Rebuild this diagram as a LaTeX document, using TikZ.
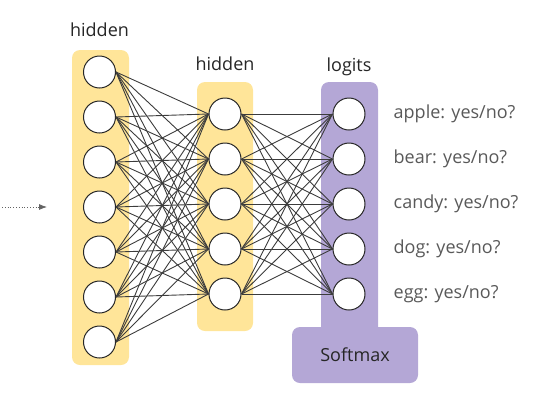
\documentclass[tikz,border=0pt]{standalone}
\usepackage{fontspec}
\setmainfont{Open Sans}
\usetikzlibrary{arrows,arrows.meta,positioning}
\definecolor{hidyellow}{HTML}{FFE599}
\definecolor{logpurple}{HTML}{B4A7D6}
\definecolor{edgegray}{HTML}{3C3C3C}
\definecolor{labgray}{HTML}{595959}

\begin{document}
\begin{tikzpicture}[x=1pt,y=-1pt,
	neuron/.style={draw=black!85,line width=1pt,fill=white,circle,minimum size=32pt,inner sep=0},
	edge/.style={edgegray,line width=0.9pt},
	title/.style={text=black!85,font=\fontsize{18}{20}\selectfont,inner sep=0,text depth=0pt},
	answer/.style={text=labgray,font=\fontsize{18}{20}\selectfont,inner sep=0,anchor=west}]
	\useasboundingbox (0,0) rectangle (555,400);
	% layer backgrounds
	\fill [hidyellow, rounded corners=8] (72,50) rectangle (129,365);
	\fill [hidyellow, rounded corners=8] (197,82) rectangle (253,331);
	\fill [logpurple, rounded corners=8] (321,82) rectangle (378,340);
	\fill [logpurple, rounded corners=8] (292,327) rectangle (418,383);
	% neurons
	\foreach \i in {1,...,7} \node[neuron] (a\i) at (99.5,{27+45*\i}) {};
	\foreach \i in {1,...,5} \node[neuron] (b\i) at (225,{69+45*\i}) {};
	\foreach \i/\t in {1/apple,2/bear,3/candy,4/dog,5/egg} {
		\node[neuron] (c\i) at (349,{69+45*\i}) {};
		\node[answer, right=28pt of c\i] (q\i) {\t: yes/no?};
	}
	% connections
	\foreach \i in {1,...,7} \foreach \j in {1,...,5} \draw[edge] (a\i.east) -- (b\j.west);
	\foreach \i in {1,...,5} \foreach \j in {1,...,5} \draw[edge] (b\i.east) -- (c\j.west);
	% titles
	\node[title, above=19pt of a1] (ha) {hidden};
	\node[title, above=27pt of b1] (hb) {hidden};
	\node[title, above=26pt of c1] (lg) {logits};
	\node[title, text depth=] (sm) at (355,355) {Softmax};
	% input arrow
	\coordinate (in) at (2,207);
	\coordinate (inend) at (47,207);
	\draw [edgegray!80, dotted, thick, -{Latex[length=8pt,width=6pt]}] (in) -- (inend);
\end{tikzpicture}
\end{document}
